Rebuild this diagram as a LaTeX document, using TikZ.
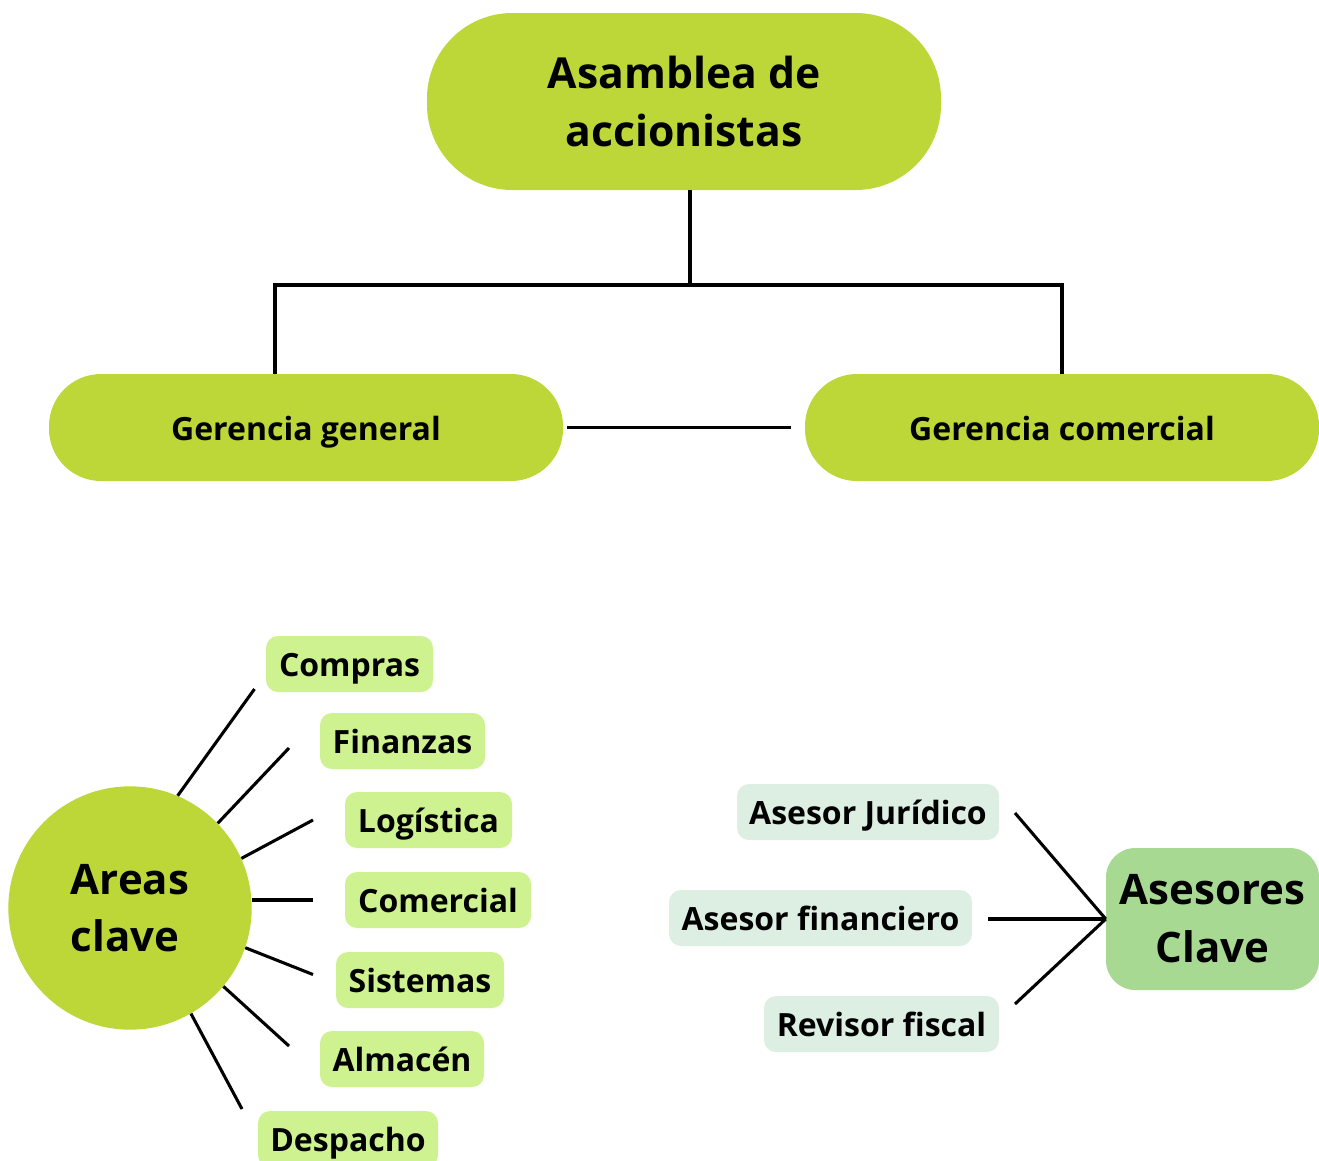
\documentclass[tikz,border=0pt]{standalone}
\usepackage{fontspec}
\setmainfont{Open Sans}
\definecolor{gMain}{HTML}{BDD739}
\definecolor{gLight}{HTML}{CEF28F}
\definecolor{gAdv}{HTML}{A8D993}
\definecolor{gPale}{HTML}{DDEEE3}
\tikzset{
  conn/.style={draw=black, line width=2.3pt},
  pillbox/.style={fill=gLight, rounded corners=9pt, minimum height=42pt, inner sep=0pt,
    text height=19pt, text depth=0pt, font=\fontsize{24}{30}\selectfont\bfseries},
  advbox/.style={fill=gPale, rounded corners=9pt, minimum height=42pt, inner sep=0pt,
    text height=19pt, text depth=0pt, font=\fontsize{24}{30}\selectfont\bfseries},
  gerbox/.style={fill=gMain, rounded corners=39pt, minimum width=385.5pt, minimum height=80.25pt,
    inner sep=0pt, text height=19pt, text depth=0pt, font=\fontsize{24}{30}\selectfont\bfseries},
}
\begin{document}
\begin{tikzpicture}[x=0.75pt,y=-0.75pt]
\useasboundingbox (0,0) rectangle (1319,1160);
\clip (0,0) rectangle (1319,1160);

% top
\node[fill=gMain, rounded corners=64pt, minimum width=385.5pt, minimum height=132.75pt,
  inner sep=0pt, align=center, font=\fontsize{32}{43.5}\selectfont\bfseries] (asam) at (684,101.5) {Asamblea de\\accionistas};
\node[gerbox] (gg) at (306,427.5) {Gerencia general};
\node[gerbox] (gc) at (1062,427.5) {Gerencia comercial};

\coordinate (j) at (690,285);
\coordinate (lg) at (275,285);
\coordinate (rg) at (1062,285);
\draw[conn] (asam.south -| j) -- (j);
\draw[conn] (lg |- gg.north) -- (lg) -- (rg) -- (rg |- gc.north);
\draw[conn, shorten <=3pt, shorten >=10.5pt] (gg.east) -- (gc.west);

% areas clave
\node[circle, fill=gMain, minimum size=182.5pt, inner sep=0pt, align=left,
  font=\fontsize{31.5}{43}\selectfont\bfseries] (areas) at (130,908) {Areas\\clave};

\node[pillbox, minimum width=125.25pt] (compras) at (349.5,664) {Compras};
\node[pillbox, minimum width=123.75pt] (finanzas) at (402.5,741) {Finanzas};
\node[pillbox, minimum width=125.25pt] (logistica) at (428.5,820) {Logística};
\node[pillbox, minimum width=139.5pt] (comercial) at (438,900) {Comercial};
\node[pillbox, minimum width=126pt] (sistemas) at (420,980) {Sistemas};
\node[pillbox, minimum width=123pt] (almacen) at (402,1059) {Almacén};
\node[pillbox, minimum width=135pt] (despacho) at (348,1139) {Despacho};

\coordinate (ecompras) at (254.5,689);
\coordinate (efinanzas) at (289,748);
\coordinate (elogistica) at (313,820);
\coordinate (ecomercial) at (313,900);
\coordinate (esistemas) at (313,974.5);
\coordinate (ealmacen) at (289,1046);
\coordinate (edespacho) at (242,1109);

\draw[conn] (areas.67.8) -- (ecompras);
\draw[conn] (areas.44.7) -- (efinanzas);
\draw[conn] (areas.24) -- (elogistica);
\draw[conn] (areas.east |- ecomercial) -- (ecomercial);
\draw[conn] (areas.-19.5) -- (esistemas);
\draw[conn] (areas.-40.4) -- (ealmacen);
\draw[conn] (areas.-60.7) -- (edespacho);

% asesores
\node[fill=gAdv, rounded corners=22pt, minimum width=159.75pt, minimum height=106.5pt,
  inner sep=0pt, align=center, font=\fontsize{31.5}{43.5}\selectfont\bfseries] (ases) at (1212.5,919) {Asesores\\Clave};
\node[advbox, minimum width=196.5pt] (juridico) at (868,812) {Asesor Jurídico};
\node[advbox, minimum width=227.25pt] (financiero) at (820.5,918) {Asesor financiero};
\node[advbox, minimum width=176.25pt] (revisor) at (881.5,1024) {Revisor fiscal};

\coordinate (ejuridico) at (1015,813);
\coordinate (efinanciero) at (988,919);
\coordinate (erevisor) at (1015,1004);
\draw[conn] (ejuridico) -- (ases.west);
\draw[conn] (efinanciero) -- (ases.west);
\draw[conn] (erevisor) -- (ases.west);
\end{tikzpicture}
\end{document}
